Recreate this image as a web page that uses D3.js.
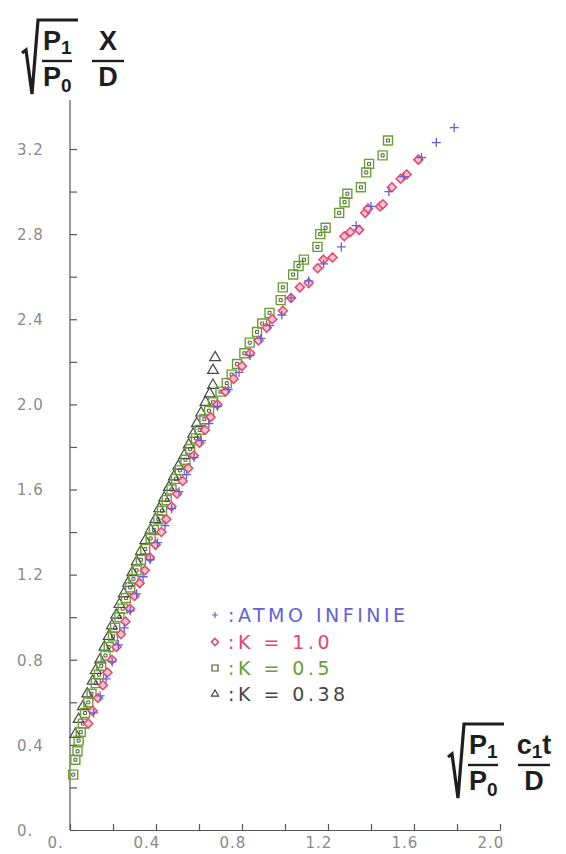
<!DOCTYPE html>
<html lang="en">
<head>
  <meta charset="UTF-8">
  <title>Onde de choc</title>
  <style>
    body { margin: 0; padding: 0; background: #fff; }
    svg { display: block; }
    .axis path, .axis line { stroke: #5a5456; stroke-width: 1.2px; }
    .axis text { font-family: "DejaVu Sans", sans-serif; font-size: 15px; fill: #8a8a8a; letter-spacing: 1px; }
    .big { font-family: "Liberation Sans", Arial, sans-serif; font-weight: bold; fill: #1e1e1e; }
    .legend text { font-family: "DejaVu Sans", sans-serif; font-size: 19px; letter-spacing: 3.5px; }
  </style>
</head>
<body>
  <div id="chart"></div>
  <script src="https://d3js.org/d3.v7.min.js"></script>
  <script>
    // tick values
    var xTicks = [0, 0.2, 0.4, 0.6, 0.8, 1.0, 1.2, 1.4, 1.6, 1.8, 2.0];
    var yTicks = [0, 0.2, 0.4, 0.6, 0.8, 1.0, 1.2, 1.4, 1.6, 1.8, 2.0, 2.2, 2.4, 2.6, 2.8, 3.0, 3.2];

    // series: [x, y]
    var atmoInfinie = [
      [0.11,0.55],[0.14,0.63],[0.168,0.71],[0.196,0.79],[0.225,0.87],[0.252,0.95],[0.28,1.03],
      [0.31,1.11],[0.34,1.19],[0.373,1.27],[0.407,1.35],[0.442,1.43],[0.473,1.51],[0.507,1.59],
      [0.542,1.67],[0.577,1.75],[0.611,1.83],[0.646,1.91],[0.686,1.99],[0.736,2.07],[0.786,2.15],
      [0.837,2.23],[0.888,2.31],[0.929,2.37],[0.985,2.42],[1.028,2.50],[1.11,2.58],[1.18,2.66],
      [1.262,2.74],[1.331,2.84],[1.40,2.93],[1.483,3.00],[1.552,3.07],[1.635,3.16],[1.704,3.23],[1.787,3.30]
    ];
    var k10 = [
      [0.085,0.50],[0.105,0.56],[0.13,0.62],[0.153,0.68],[0.174,0.74],[0.195,0.80],[0.216,0.86],
      [0.237,0.92],[0.258,0.98],[0.279,1.04],[0.30,1.10],[0.324,1.16],[0.348,1.22],[0.372,1.28],
      [0.398,1.34],[0.425,1.40],[0.448,1.46],[0.472,1.52],[0.498,1.58],[0.524,1.64],[0.55,1.70],
      [0.576,1.76],[0.602,1.82],[0.628,1.88],[0.654,1.94],[0.685,2.00],[0.723,2.06],[0.761,2.12],
      [0.80,2.18],[0.838,2.24],[0.877,2.30],[0.915,2.36],[0.941,2.40],[0.99,2.44],[1.028,2.50],
      [1.069,2.55],[1.11,2.57],[1.152,2.64],[1.179,2.68],[1.221,2.69],[1.276,2.79],[1.304,2.81],
      [1.345,2.82],[1.373,2.90],[1.386,2.92],[1.442,2.93],[1.455,2.94],[1.497,3.02],[1.538,3.06],
      [1.566,3.08],[1.62,3.15]
    ];
    var k05 = [
      [0.015,0.26],[0.025,0.33],[0.035,0.37],[0.04,0.42],[0.05,0.46],[0.06,0.50],[0.07,0.55],
      [0.085,0.60],[0.10,0.64],[0.12,0.69],[0.135,0.73],[0.145,0.77],[0.165,0.82],[0.18,0.86],
      [0.20,0.91],[0.21,0.95],[0.23,1.00],[0.245,1.04],[0.26,1.09],[0.28,1.14],[0.295,1.18],
      [0.31,1.22],[0.33,1.27],[0.35,1.32],[0.375,1.37],[0.39,1.41],[0.411,1.46],[0.428,1.50],
      [0.45,1.55],[0.472,1.60],[0.493,1.65],[0.511,1.69],[0.537,1.74],[0.559,1.79],[0.586,1.84],
      [0.603,1.88],[0.625,1.93],[0.647,1.97],[0.665,2.01],[0.70,2.06],[0.729,2.10],[0.752,2.14],
      [0.777,2.19],[0.811,2.24],[0.836,2.29],[0.87,2.34],[0.894,2.38],[0.928,2.43],[0.98,2.49],
      [0.99,2.55],[1.038,2.61],[1.063,2.65],[1.088,2.68],[1.151,2.74],[1.164,2.80],[1.189,2.83],
      [1.252,2.90],[1.277,2.95],[1.29,2.99],[1.353,3.02],[1.378,3.09],[1.391,3.13],[1.454,3.17],[1.479,3.24]
    ];
    var k038 = [
      [0.025,0.45],[0.04,0.52],[0.06,0.58],[0.08,0.64],[0.105,0.70],[0.12,0.75],[0.14,0.80],
      [0.16,0.86],[0.18,0.91],[0.195,0.96],[0.215,1.01],[0.23,1.06],[0.25,1.11],[0.27,1.16],
      [0.29,1.21],[0.31,1.26],[0.33,1.31],[0.35,1.36],[0.375,1.41],[0.397,1.46],[0.415,1.51],
      [0.438,1.56],[0.46,1.61],[0.483,1.66],[0.504,1.71],[0.531,1.76],[0.552,1.81],[0.573,1.86],
      [0.59,1.91],[0.61,1.96],[0.63,2.01],[0.65,2.05],[0.665,2.09],[0.665,2.16],[0.675,2.22]
    ];

    var legendLabels = [":ATMO INFINIE", ":K = 1.0", ":K = 0.5", ":K = 0.38"];
    var colors = ["#6262d8", "#e6456c", "#6aa032", "#474747"];

    var width = 566, height = 854;
    var svg = d3.select("#chart").append("svg")
      .attr("width", width).attr("height", height);

    var x = d3.scaleLinear().domain([0, 2]).range([70, 500]);
    var y = d3.scaleLinear().domain([0, 3.2]).range([830, 149]);

    var fmt = function(d) {
      if (Math.abs(d) < 1e-9) return "0.";
      return Math.abs(d * 10 / 4 - Math.round(d * 10 / 4)) < 1e-6 ? d3.format(".1f")(d) : "";
    };

    // y axis
    var gy = svg.append("g").attr("class", "axis").attr("transform", "translate(70,0)")
      .call(d3.axisRight(y).tickValues(yTicks).tickSize(7).tickSizeOuter(0).tickFormat(fmt));
    gy.select(".domain").remove();
    gy.append("line").attr("x1", 0).attr("x2", 0).attr("y1", y(0)).attr("y2", y(3.43));
    gy.selectAll(".tick text").attr("x", -53).attr("dy", "0.35em").attr("text-anchor", "start");

    // x axis
    var gx = svg.append("g").attr("class", "axis").attr("transform", "translate(0,830)")
      .call(d3.axisTop(x).tickValues(xTicks).tickSize(6).tickSizeOuter(0).tickFormat(fmt));
    gx.selectAll(".tick text").attr("x", -23).attr("y", 13).attr("dy", "0.35em").attr("text-anchor", "start");

    // markers
    var plus = function(s) { return "M" + (-s) + ",0H" + s + "M0," + (-s) + "V" + s; };
    var rhomb = function(s) { return "M0," + (-s) + "L" + s + ",0L0," + s + "L" + (-s) + ",0Z"; };
    var sq = d3.symbol().type(d3.symbolSquare);
    var tri = d3.symbol().type(d3.symbolTriangle);
    var at = function(d) { return "translate(" + x(d[0]) + "," + y(d[1]) + ")"; };

    function drawSquares(data, size) {
      var s = svg.append("g").selectAll("g").data(data).enter().append("g").attr("transform", at);
      s.append("path").attr("d", sq.size(size * size)).attr("fill", "none")
        .attr("stroke", colors[2]).attr("stroke-width", 1.4);
      s.append("path").attr("d", sq.size(size * size / 9)).attr("fill", "none")
        .attr("stroke", "#3d4a2a").attr("stroke-width", 0.9);
    }

    function drawTriangles(data, size) {
      svg.append("g").selectAll("path").data(data).enter().append("path")
        .attr("transform", at).attr("d", tri.size(size))
        .attr("fill", "none").attr("stroke", colors[3]).attr("stroke-width", 1.2);
    }

    function drawDiamonds(data, s) {
      svg.append("g").selectAll("path").data(data).enter().append("path")
        .attr("transform", at).attr("d", rhomb(s))
        .attr("fill", "#f8c4d0").attr("stroke", colors[1]).attr("stroke-width", 1.5);
    }

    function drawPlus(data, s) {
      svg.append("g").selectAll("path").data(data).enter().append("path")
        .attr("transform", at).attr("d", plus(s))
        .attr("stroke", colors[0]).attr("stroke-width", 1.3);
    }

    drawTriangles(k038, 50);
    drawSquares(k05, 9);
    drawDiamonds(k10, 4.5);
    drawPlus(atmoInfinie, 4.5);

    // legend
    var legY = [615, 642, 668, 694];
    var leg = svg.append("g").attr("class", "legend");
    legendLabels.forEach(function(t, i) {
      leg.append("text").attr("x", 228).attr("y", legY[i]).attr("dy", "0.35em")
        .attr("fill", colors[i]).text(t);
    });
    leg.append("path").attr("transform", "translate(215," + legY[0] + ")").attr("d", plus(3))
      .attr("stroke", colors[0]).attr("stroke-width", 1.2);
    leg.append("path").attr("transform", "translate(215," + legY[1] + ")").attr("d", rhomb(3.5))
      .attr("fill", "none").attr("stroke", colors[1]).attr("stroke-width", 1.6);
    leg.append("path").attr("transform", "translate(215," + legY[2] + ")").attr("d", sq.size(36))
      .attr("fill", "none").attr("stroke", "#4c5a34").attr("stroke-width", 1.2);
    leg.append("path").attr("transform", "translate(215," + legY[3] + ")").attr("d", tri.size(22))
      .attr("fill", "none").attr("stroke", colors[3]).attr("stroke-width", 1.2);

    // axis titles: sqrt(P1/P0) X/D and sqrt(P1/P0) c1t/D
    function radicalLabel(g, x0, y0, num2, den2, sub2) {
      g.append("path")
        .attr("d", "M" + x0 + "," + (y0 + 33) + "L" + (x0 + 4) + "," + (y0 + 30) +
          "L" + (x0 + 10) + "," + (y0 + 74) + "L" + (x0 + 16) + "," + y0 + "H" + (x0 + 56))
        .attr("fill", "none").attr("stroke", "#1e1e1e").attr("stroke-width", 3.2)
        .attr("stroke-linejoin", "miter");
      var t = g.append("text").attr("class", "big").attr("font-size", 27);
      t.append("tspan").attr("x", x0 + 21).attr("y", y0 + 30).text("P");
      t.append("tspan").attr("font-size", 19).attr("dy", 4).text("1");
      var b = g.append("text").attr("class", "big").attr("font-size", 27);
      b.append("tspan").attr("x", x0 + 21).attr("y", y0 + 66).text("P");
      b.append("tspan").attr("font-size", 19).attr("dy", 6).text("0");
      g.append("line").attr("x1", x0 + 20).attr("x2", x0 + 50).attr("y1", y0 + 41).attr("y2", y0 + 41)
        .attr("stroke", "#1e1e1e").attr("stroke-width", 2.4);
      var n = g.append("text").attr("class", "big").attr("font-size", 27)
        .attr("x", x0 + 86).attr("y", y0 + 30).attr("text-anchor", "middle");
      n.append("tspan").text(num2[0]);
      if (sub2) {
        n.append("tspan").attr("font-size", 19).attr("dy", 4).text(sub2);
        n.append("tspan").attr("dy", -4).text(num2.slice(1));
      }
      g.append("text").attr("class", "big").attr("font-size", 27)
        .attr("x", x0 + 86).attr("y", y0 + 66).attr("text-anchor", "middle").text(den2);
      g.append("line").attr("x1", x0 + 70).attr("x2", x0 + 102).attr("y1", y0 + 41).attr("y2", y0 + 41)
        .attr("stroke", "#1e1e1e").attr("stroke-width", 2.4);
    }

    radicalLabel(svg.append("g"), 22, 20, "X", "D", null);
    radicalLabel(svg.append("g"), 448, 724, "ct", "D", "1");
  </script>
</body>
</html>
